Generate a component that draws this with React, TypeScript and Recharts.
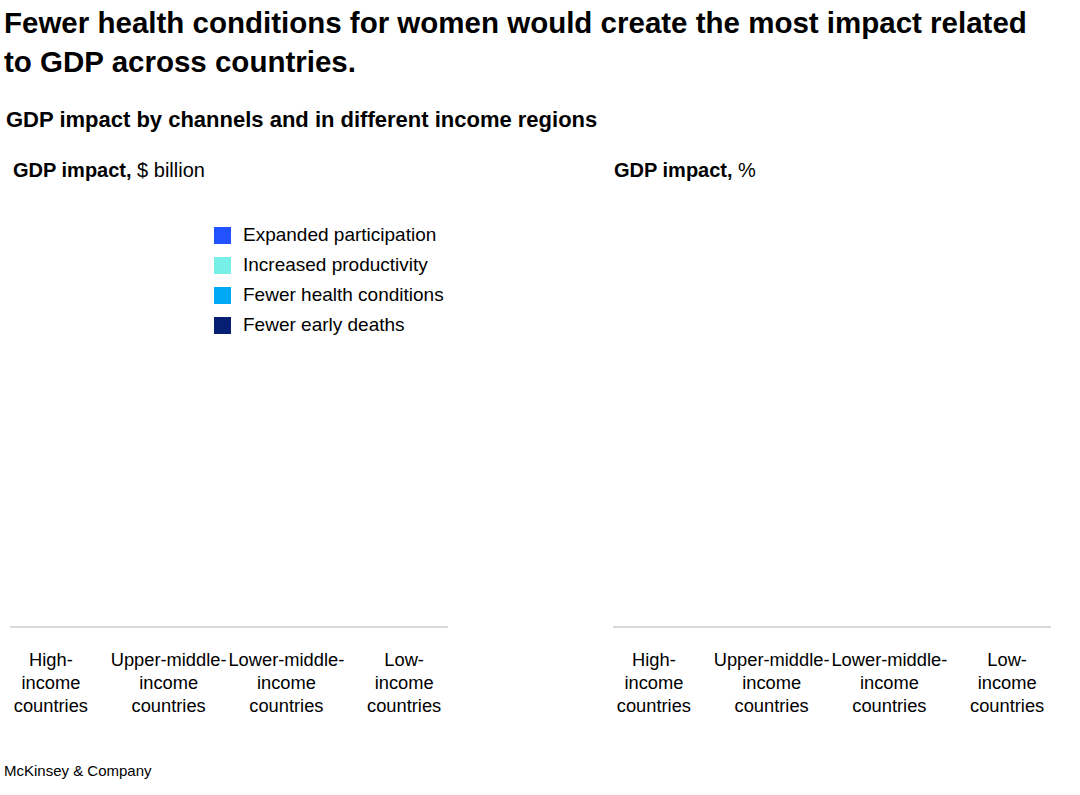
import React from "react";
import { BarChart, Bar, XAxis, YAxis, Legend } from "recharts";

const categories = [
  "High-income countries",
  "Upper-middle-income countries",
  "Lower-middle-income countries",
  "Low-income countries",
];
const tickLines: string[][] = [
  ["High-", "income", "countries"],
  ["Upper-middle-", "income", "countries"],
  ["Lower-middle-", "income", "countries"],
  ["Low-", "income", "countries"],
];
const seriesNames = [
  "Expanded participation",
  "Increased productivity",
  "Fewer health conditions",
  "Fewer early deaths",
];
const seriesKeys = ["participation", "productivity", "health", "deaths"];
const seriesColors = ["#2251ff", "#76efe6", "#00a9f4", "#061f72"];

// Bars are not visible in the reference: values read as zero
const billionParticipation = [0, 0, 0, 0];
const billionProductivity = [0, 0, 0, 0];
const billionHealth = [0, 0, 0, 0];
const billionDeaths = [0, 0, 0, 0];

const pctParticipation = [0, 0, 0, 0];
const pctProductivity = [0, 0, 0, 0];
const pctHealth = [0, 0, 0, 0];
const pctDeaths = [0, 0, 0, 0];

const billionData = categories.map((c, i) => ({
  category: c,
  participation: billionParticipation[i],
  productivity: billionProductivity[i],
  health: billionHealth[i],
  deaths: billionDeaths[i],
}));
const pctData = categories.map((c, i) => ({
  category: c,
  participation: pctParticipation[i],
  productivity: pctProductivity[i],
  health: pctHealth[i],
  deaths: pctDeaths[i],
}));

const FONT = "'Liberation Sans', Arial, sans-serif";

const CatTick = (props: any) => {
  const { x, y, payload } = props;
  const idx = categories.indexOf(payload.value);
  const lines = tickLines[idx] || [payload.value];
  return (
    <text x={x} y={y} textAnchor="middle" fill="#000" fontSize={18.3} fontFamily={FONT}>
      {lines.map((l, i) => (
        <tspan key={i} x={x} y={y + 31 + i * 23}>
          {l}
        </tspan>
      ))}
    </text>
  );
};

const LegendContent = (props: any) => {
  const payload = [...(props.payload || [])].sort(
    (a: any, b: any) => seriesNames.indexOf(a.value) - seriesNames.indexOf(b.value)
  );
  return (
    <div style={{ fontFamily: FONT }}>
      {payload.map((p: any, i: number) => (
        <div key={i} style={{ display: "flex", alignItems: "center", height: 30 }}>
          <div style={{ width: 17, height: 17, background: p.color, marginRight: 12 }} />
          <span style={{ fontSize: 19, color: "#000", whiteSpace: "nowrap" }}>{p.value}</span>
        </div>
      ))}
    </div>
  );
};

function Panel({ data, showLegend }: { data: any[]; showLegend: boolean }) {
  return (
    <BarChart
      width={460}
      height={540}
      data={data}
      margin={{ top: 0, right: 12, bottom: 13, left: 10 }}
      barCategoryGap="30%"
    >
      <XAxis
        dataKey="category"
        height={90}
        interval={0}
        tickLine={false}
        axisLine={{ stroke: "#b3b3b3", strokeWidth: 1 }}
        tick={<CatTick />}
        padding={{ left: -18, right: -15 }}
      />
      <YAxis hide domain={[0, 100]} />
      {showLegend && (
        <Legend
          layout="vertical"
          verticalAlign="middle"
          align="center"
          content={<LegendContent />}
          wrapperStyle={{ position: "absolute", left: 214, top: 30, width: 260 }}
        />
      )}
      {seriesKeys.map((k, i) => (
        <Bar
          key={k}
          dataKey={k}
          name={seriesNames[i]}
          stackId="a"
          fill={seriesColors[i]}
          isAnimationActive={false}
        />
      ))}
    </BarChart>
  );
}

export default function App() {
  return (
    <div
      style={{
        position: "absolute",
        left: 0,
        top: 0,
        width: 1080,
        height: 795,
        background: "#fff",
        fontFamily: FONT,
        color: "#000",
      }}
    >
      <div
        style={{
          position: "absolute",
          left: 4,
          top: 3,
          width: 1076,
          fontSize: 29.5,
          fontWeight: 700,
          lineHeight: "39px",
          whiteSpace: "nowrap",
        }}
      >
        Fewer health conditions for women would create the most impact related
        <br />
        to GDP across countries.
      </div>
      <div
        style={{
          position: "absolute",
          left: 6,
          top: 107,
          fontSize: 22,
          fontWeight: 700,
          whiteSpace: "nowrap",
        }}
      >
        GDP impact by channels and in different income regions
      </div>
      <div style={{ position: "absolute", left: 13, top: 159, fontSize: 20 }}>
        <b>GDP impact,</b> $ billion
      </div>
      <div style={{ position: "absolute", left: 614, top: 159, fontSize: 20 }}>
        <b>GDP impact,</b> %
      </div>
      <div style={{ position: "absolute", left: 0, top: 190 }}>
        <Panel data={billionData} showLegend={true} />
      </div>
      <div style={{ position: "absolute", left: 603, top: 190 }}>
        <Panel data={pctData} showLegend={false} />
      </div>
      <div style={{ position: "absolute", left: 4, top: 762, fontSize: 15 }}>
        McKinsey &amp; Company
      </div>
    </div>
  );
}
